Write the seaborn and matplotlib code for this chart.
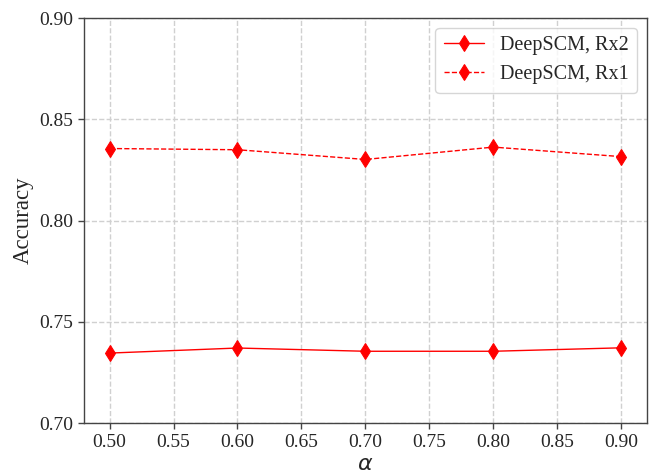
import matplotlib
matplotlib.use("Agg")
import matplotlib.pyplot as plt
import seaborn as sns
import pandas as pd

alpha = [0.5, 0.6, 0.7, 0.8, 0.9]
rx2 = [0.7346, 0.7371, 0.7355, 0.7355, 0.7372]
rx1 = [0.8356, 0.8350, 0.8302, 0.8363, 0.8316]
labels = ["DeepSCM, Rx2", "DeepSCM, Rx1"]

sns.set_style("white")
plt.rcParams["font.family"] = ["Liberation Serif", "DejaVu Serif"]
plt.rcParams["mathtext.fontset"] = "dejavusans"

fig = plt.figure(figsize=(6.56, 4.76), dpi=100)
ax = fig.add_axes([0.128, 0.111, 0.858, 0.851])

df2 = pd.DataFrame({"alpha": alpha, "acc": rx2})
df1 = pd.DataFrame({"alpha": alpha, "acc": rx1})
sns.lineplot(data=df2, x="alpha", y="acc", ax=ax, color="red", marker="d",
             markersize=8.5, linewidth=1, linestyle="-", label=labels[0],
             markeredgecolor="red")
sns.lineplot(data=df1, x="alpha", y="acc", ax=ax, color="red", marker="d",
             markersize=8.5, linewidth=1, linestyle="--", label=labels[1],
             markeredgecolor="red")

ax.set_ylim(0.70, 0.90)
ax.set_xticks([0.50, 0.55, 0.60, 0.65, 0.70, 0.75, 0.80, 0.85, 0.90])
ax.set_yticks([0.70, 0.75, 0.80, 0.85, 0.90])
ax.xaxis.set_major_formatter(matplotlib.ticker.FormatStrFormatter("%.2f"))
ax.yaxis.set_major_formatter(matplotlib.ticker.FormatStrFormatter("%.2f"))
ax.tick_params(axis="both", labelsize=14, length=4, width=1, color="#444444",
               left=True, bottom=True)
ax.grid(True, linestyle="--", color="#d0d0d0", linewidth=1)
for s in ax.spines.values():
    s.set_color("#444444")
    s.set_linewidth(1)
ax.set_xlabel(r"$\alpha$", fontsize=16)
ax.set_ylabel("Accuracy", fontsize=16.5)
ax.legend(loc="upper right", fontsize=14.5, frameon=True)

fig.savefig("out.png", dpi=100)
